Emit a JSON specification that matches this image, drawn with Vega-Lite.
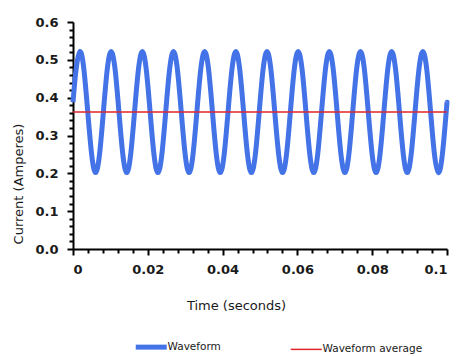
{
  "$schema": "https://vega.github.io/schema/vega-lite/v6.json",
  "width": 374,
  "height": 227,
  "autosize": {"type": "none"},
  "padding": {"left": 73, "top": 22, "right": 10, "bottom": 107},
  "config": {
    "font": "DejaVu Sans",
    "view": {"stroke": null},
    "axis": {"grid": false, "domainColor": "#000000", "domainWidth": 2, "tickColor": "#000000", "tickWidth": 2, "labelColor": "#1a1a1a", "titleColor": "#1a1a1a", "zindex": 1}
  },
  "layer": [
    {
      "data": {"values": [
        {"t":0,"v":0.388},{"t":0.00083,"v":0.475},
        {"t":0.00187,"v":0.522},{"t":0.00291,"v":0.475},{"t":0.00395,"v":0.362},{"t":0.005,"v":0.249},{"t":0.00604,"v":0.202},{"t":0.00708,"v":0.249},{"t":0.00812,"v":0.362},{"t":0.00916,"v":0.475},
        {"t":0.0102,"v":0.522},{"t":0.01125,"v":0.475},{"t":0.01229,"v":0.362},{"t":0.01333,"v":0.249},{"t":0.01437,"v":0.202},{"t":0.01541,"v":0.249},{"t":0.01645,"v":0.362},{"t":0.0175,"v":0.475},
        {"t":0.01854,"v":0.522},{"t":0.01958,"v":0.475},{"t":0.02062,"v":0.362},{"t":0.02166,"v":0.249},{"t":0.0227,"v":0.202},{"t":0.02375,"v":0.249},{"t":0.02479,"v":0.362},{"t":0.02583,"v":0.475},
        {"t":0.02687,"v":0.522},{"t":0.02791,"v":0.475},{"t":0.02895,"v":0.362},{"t":0.03,"v":0.249},{"t":0.03104,"v":0.202},{"t":0.03208,"v":0.249},{"t":0.03312,"v":0.362},{"t":0.03416,"v":0.475},
        {"t":0.0352,"v":0.522},{"t":0.03625,"v":0.475},{"t":0.03729,"v":0.362},{"t":0.03833,"v":0.249},{"t":0.03937,"v":0.202},{"t":0.04041,"v":0.249},{"t":0.04145,"v":0.362},{"t":0.0425,"v":0.475},
        {"t":0.04354,"v":0.522},{"t":0.04458,"v":0.475},{"t":0.04562,"v":0.362},{"t":0.04666,"v":0.249},{"t":0.0477,"v":0.202},{"t":0.04875,"v":0.249},{"t":0.04979,"v":0.362},{"t":0.05083,"v":0.475},
        {"t":0.05187,"v":0.522},{"t":0.05291,"v":0.475},{"t":0.05395,"v":0.362},{"t":0.055,"v":0.249},{"t":0.05604,"v":0.202},{"t":0.05708,"v":0.249},{"t":0.05812,"v":0.362},{"t":0.05916,"v":0.475},
        {"t":0.0602,"v":0.522},{"t":0.06125,"v":0.475},{"t":0.06229,"v":0.362},{"t":0.06333,"v":0.249},{"t":0.06437,"v":0.202},{"t":0.06541,"v":0.249},{"t":0.06645,"v":0.362},{"t":0.0675,"v":0.475},
        {"t":0.06854,"v":0.522},{"t":0.06958,"v":0.475},{"t":0.07062,"v":0.362},{"t":0.07166,"v":0.249},{"t":0.0727,"v":0.202},{"t":0.07375,"v":0.249},{"t":0.07479,"v":0.362},{"t":0.07583,"v":0.475},
        {"t":0.07687,"v":0.522},{"t":0.07791,"v":0.475},{"t":0.07895,"v":0.362},{"t":0.08,"v":0.249},{"t":0.08104,"v":0.202},{"t":0.08208,"v":0.249},{"t":0.08312,"v":0.362},{"t":0.08416,"v":0.475},
        {"t":0.0852,"v":0.522},{"t":0.08625,"v":0.475},{"t":0.08729,"v":0.362},{"t":0.08833,"v":0.249},{"t":0.08937,"v":0.202},{"t":0.09041,"v":0.249},{"t":0.09145,"v":0.362},{"t":0.0925,"v":0.475},
        {"t":0.09354,"v":0.522},{"t":0.09458,"v":0.475},{"t":0.09562,"v":0.362},{"t":0.09666,"v":0.249},{"t":0.0977,"v":0.202},{"t":0.09875,"v":0.249},{"t":0.09979,"v":0.362},
        {"t":0.1,"v":0.388}
      ]},
      "mark": {"type": "line", "interpolate": "natural", "strokeWidth": 5},
      "encoding": {
        "x": {"field": "t", "type": "quantitative", "scale": {"domain": [0, 0.1], "nice": false},
          "axis": {"orient": "bottom", "values": [0, 0.02, 0.04, 0.06, 0.08, 0.1], "format": "~g", "tickSize": 6, "labelFontSize": 13, "labelFontWeight": "bold", "labelPadding": 8,
            "title": "Time (seconds)", "titleFontSize": 13, "titleFontWeight": "normal", "titleX": 163, "titleY": 56, "titleBaseline": "middle", "titleAnchor": null}},
        "y": {"field": "v", "type": "quantitative", "scale": {"domain": [0, 0.6], "nice": false},
          "axis": {"orient": "left", "values": [0, 0.1, 0.2, 0.3, 0.4, 0.5, 0.6], "format": ".1f", "tickSize": 6, "labelFontSize": 13, "labelFontWeight": "bold", "labelPadding": 9,
            "title": "Current (Amperes)", "titleFontSize": 13, "titleFontWeight": "normal", "titleX": -54.5, "titleY": 161.5, "titleBaseline": "middle"}},
        "color": {"datum": "Waveform", "type": "nominal",
          "scale": {"domain": ["Waveform", "Waveform average"], "range": ["#4473E8", "#E0262B"]},
          "legend": {"orient": "none", "direction": "horizontal", "legendX": 73, "legendY": 319.5, "title": null, "symbolType": "stroke", "symbolSize": 961, "labelFontSize": 10.5, "labelFontWeight": "normal", "labelOffset": 11, "columnPadding": 66, "labelColor": "#1a1a1a",
            "encode": {"symbols": {"update": {"strokeWidth": {"signal": "datum.value === 'Waveform' ? 5 : 1.5"}}}}}}
      }
    },
    {
      "data": {"values": [{"t": 0, "v": 0.362}, {"t": 0.1, "v": 0.362}]},
      "mark": {"type": "line", "strokeWidth": 1.5},
      "encoding": {
        "x": {"field": "t", "type": "quantitative",
          "axis": {"orient": "bottom", "values": [0.004,0.008,0.012,0.016,0.024,0.028,0.032,0.036,0.044,0.048,0.052,0.056,0.064,0.068,0.072,0.076,0.084,0.088,0.092,0.096], "tickSize": 4, "labels": false, "domain": false, "title": null}},
        "y": {"field": "v", "type": "quantitative",
          "axis": {"orient": "left", "values": [0.02,0.04,0.06,0.08,0.12,0.14,0.16,0.18,0.22,0.24,0.26,0.28,0.32,0.34,0.36,0.38,0.42,0.44,0.46,0.48,0.52,0.54,0.56,0.58], "tickSize": 4, "labels": false, "domain": false, "title": null}},
        "color": {"datum": "Waveform average", "type": "nominal"}
      }
    }
  ],
  "resolve": {"axis": {"x": "independent", "y": "independent"}}
}
